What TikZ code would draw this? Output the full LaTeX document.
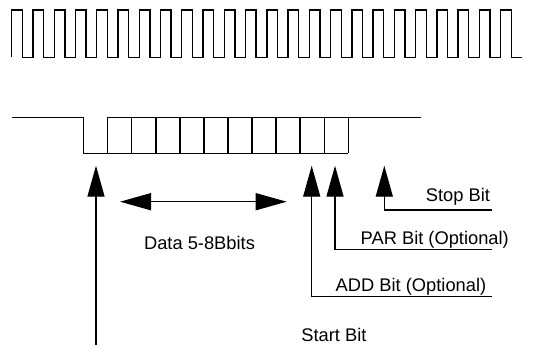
\documentclass[tikz,border=0pt]{standalone}
\usepackage{fontspec}
\setmainfont{Liberation Sans}
\usetikzlibrary{arrows.meta}

\begin{document}
\begin{tikzpicture}[
      x=1pt, y=-1pt,
      line width=1.4pt,
      tip/.style={-{Triangle[length=31pt,width=17pt]}},
      both/.style={{Triangle[length=31pt,width=17pt]}-{Triangle[length=31pt,width=17pt]}},
      lbl/.style={inner sep=0pt,font=\fontsize{18.3}{22}\selectfont}
    ]
    \useasboundingbox (0,0) rectangle (540,345);
    % clock
    \draw (11.7,57.3) \foreach \i in {0,...,23} {
      -- ++(0,-47.3) -- ++(10.63,0) -- ++(0,47.3) -- ++(10.63,0)};
    % frame
    \draw (11.7,117.3) -- (83.3,117.3) -- (83.3,153.3) -- (348.3,153.3);
    \draw (107.7,153.3) -- (107.7,117.3) -- (420.7,117.3);
    \foreach \k in {1,...,10}
      \draw (107.7+24.06*\k,117.3) -- (107.7+24.06*\k,153.3);
    % arrow tips
    \coordinate (start) at (96,165.7);
    \coordinate (add) at (311.7,165.7);
    \coordinate (par) at (335,165.7);
    \coordinate (stop) at (384.3,165.7);
    \coordinate (startend) at (96,345);
    \coordinate (dleft) at (120,201.7);
    \coordinate (dright) at (286.7,201.7);
    \coordinate (stopend) at (492.3,210);
    \coordinate (parend) at (492.3,249.3);
    \coordinate (addend) at (492.3,296.7);
    % labels
    \node (data) [lbl] at (199.5,243.3) {Data 5-8Bbits};
    \node (stoplbl) [lbl,anchor=east] at (490.7,196.7) {Stop Bit};
    \node (parlbl) [lbl,anchor=west] at (360,239.3) {PAR Bit (Optional)};
    \node (addlbl) [lbl,anchor=west] at (335,286.7) {ADD Bit (Optional)};
    \node (startlbl) [lbl,anchor=west] at (300.7,335) {Start Bit};
    % arrows
    \draw[tip] (startend) -- (start);
    \draw[both] (dleft) -- (dright);
    \draw[tip] (addend) -| (add);
    \draw[tip] (parend) -| (par);
    \draw[tip] (stopend) -| (stop);
  \end{tikzpicture}
\end{document}
